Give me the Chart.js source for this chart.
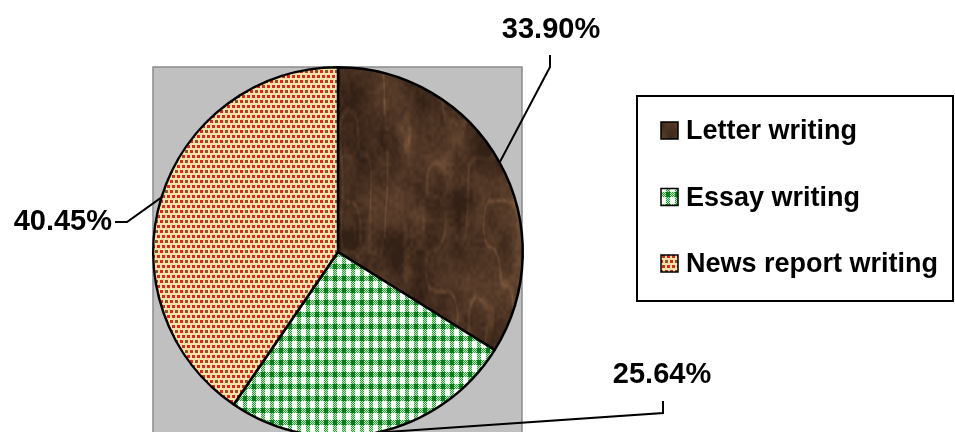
<!DOCTYPE html>
<html lang="en">
<head>
<meta charset="utf-8" />
<title>Writing skills pie</title>
<script src="https://cdn.jsdelivr.net/npm/chart.js"></script>
<style>
    html, body { margin: 0; padding: 0; overflow: hidden; background: #fff; }
    #wrap { width: 955px; height: 432px; overflow: hidden; }
</style>
</head>
<body>
<div id="wrap"><canvas id="pie" width="955" height="438"></canvas></div>
<script>
// data
var categories = ['Letter writing', 'Essay writing', 'News report writing'];
var shares = [33.90, 25.64, 40.45];
var shareLabels = ['33.90%', '25.64%', '40.45%'];

// callout placement (elbow, line end, text centre) per slice
var callouts = [
    { elbow: [550, 67], end: [550, 55], text: [551, 30], align: 'center' },
    { elbow: [663, 413], end: [663, 401], text: [662, 375], align: 'center' },
    { elbow: [127, 222], end: [115, 222], text: [112, 222], align: 'right' }
];

var FONT = '"Liberation Sans", Arial, Helvetica, sans-serif';

function makePattern(w, h, paint) {
    var c = document.createElement('canvas');
    c.width = w; c.height = h;
    var g = c.getContext('2d');
    paint(g, w, h);
    return g.createPattern(c, 'repeat');
}

// bark-like brown texture, as big as the canvas so no seams show
function hash(x, y) {
    var s = Math.sin(x * 127.1 + y * 311.7) * 43758.5453;
    return s - Math.floor(s);
}
function vnoise(x, y) {
    var ix = Math.floor(x), iy = Math.floor(y);
    var fx = x - ix, fy = y - iy;
    fx = fx * fx * (3 - 2 * fx); fy = fy * fy * (3 - 2 * fy);
    var a = hash(ix, iy), b = hash(ix + 1, iy), c = hash(ix, iy + 1), d = hash(ix + 1, iy + 1);
    return a + (b - a) * fx + (c - a) * fy + (a - b - c + d) * fx * fy;
}
var brown = makePattern(960, 440, function (g, w, h) {
    var img = g.createImageData(w, h);
    for (var y = 0; y < h; y++) {
        for (var x = 0; x < w; x++) {
            var n = 0.5 * vnoise(x / 35, y / 50) + 0.3 * vnoise(x / 12, y / 20) + 0.2 * vnoise(x / 3, y / 4);
            var r = Math.abs(vnoise(x / 14 + 7, y / 45 + 3) - 0.5);
            var vein = Math.max(0, 1 - r * 10) * 0.35;
            var t = Math.min(1, Math.max(0, (n - 0.3) * 0.8 + vein * n));
            var i = (y * w + x) * 4;
            img.data[i] = 52 + t * 100;
            img.data[i + 1] = 33 + t * 76;
            img.data[i + 2] = 22 + t * 55;
            img.data[i + 3] = 255;
        }
    }
    g.putImageData(img, 0, 0);
});

// green gingham
var green = makePattern(9, 12, function (g, w, h) {
    g.fillStyle = '#f2fff0'; g.fillRect(0, 0, w, h);
    for (var y = 0; y < h; y++) {
        for (var x = 0; x < w; x++) {
            var vb = x < 4, hb = y < 5;
            if (vb && hb) { g.fillStyle = '#0b7a1c'; g.fillRect(x, y, 1, 1); }
            else if (vb || hb) {
                g.fillStyle = ((x + y) % 2 === 0) ? '#2a963a' : '#c0eac0';
                g.fillRect(x, y, 1, 1);
            }
        }
    }
    g.fillStyle = '#ffffff'; g.fillRect(5, 6, 3, 5);
});

// red / olive dots on pale yellow
var dots = makePattern(10, 10, function (g, w, h) {
    g.fillStyle = '#fce2aa'; g.fillRect(0, 0, w, h);
    g.fillStyle = '#e0241a'; g.fillRect(0, 0, 3, 3); g.fillRect(7, 5, 3, 3);
    g.fillStyle = '#8e5222'; g.fillRect(5, 0, 3, 3);
    g.fillStyle = '#c8301e'; g.fillRect(2, 5, 3, 3);
});

var fills = [brown, green, dots];

var decor = {
    id: 'decor',
    beforeDatasetsDraw: function (chart) {
        var ctx = chart.ctx;
        ctx.save();
        ctx.fillStyle = '#c0c0c0';
        ctx.fillRect(153, 67, 369, 380);
        ctx.strokeStyle = '#8a8a8a';
        ctx.lineWidth = 1.5;
        ctx.strokeRect(153, 67, 369, 380);
        ctx.restore();
    },
    afterDatasetsDraw: function (chart) {
        var ctx = chart.ctx;
        var arcs = chart.getDatasetMeta(0).data;
        ctx.save();
        ctx.strokeStyle = '#000';
        ctx.lineWidth = 2;
        ctx.fillStyle = '#000';
        ctx.font = 'bold 29px ' + FONT;
        ctx.textBaseline = 'middle';
        arcs.forEach(function (arc, i) {
            var p = arc.getProps(['x', 'y', 'startAngle', 'endAngle', 'outerRadius'], true);
            var mid = (p.startAngle + p.endAngle) / 2;
            var ax = p.x + Math.cos(mid) * p.outerRadius;
            var ay = p.y + Math.sin(mid) * p.outerRadius;
            var c = callouts[i];
            ctx.beginPath();
            ctx.moveTo(ax, ay);
            ctx.lineTo(c.elbow[0], c.elbow[1]);
            ctx.lineTo(c.end[0], c.end[1]);
            ctx.stroke();
            ctx.textAlign = c.align;
            ctx.fillText(shareLabels[i], c.text[0], c.text[1]);
        });
        ctx.restore();
    },
    afterDraw: function (chart) {
        var ctx = chart.ctx;
        ctx.save();
        ctx.strokeStyle = '#000';
        ctx.lineWidth = 2;
        ctx.fillStyle = '#fff';
        ctx.fillRect(637, 96, 316, 205);
        ctx.strokeRect(637, 96, 316, 205);
        ctx.font = 'bold 27px ' + FONT;
        ctx.textBaseline = 'middle';
        ctx.textAlign = 'left';
        categories.forEach(function (name, i) {
            var y = 131 + i * 66.5;
            ctx.fillStyle = fills[i];
            ctx.fillRect(661, y - 9, 17, 17);
            ctx.lineWidth = 1.5;
            ctx.strokeRect(661, y - 9, 17, 17);
            ctx.fillStyle = '#000';
            ctx.fillText(name, 686, y + 1);
        });
        ctx.restore();
    }
};

new Chart(document.getElementById('pie'), {
    type: 'pie',
    data: {
        labels: categories,
        datasets: [{
            data: shares,
            backgroundColor: fills,
            borderColor: '#000',
            borderWidth: 2.5
        }]
    },
    options: {
        responsive: false,
        animation: false,
        layout: { padding: { left: 152, top: 66, right: 431, bottom: 0 } },
        plugins: {
            legend: { display: false },
            tooltip: { enabled: false }
        }
    },
    plugins: [decor]
});
</script>
</body>
</html>
